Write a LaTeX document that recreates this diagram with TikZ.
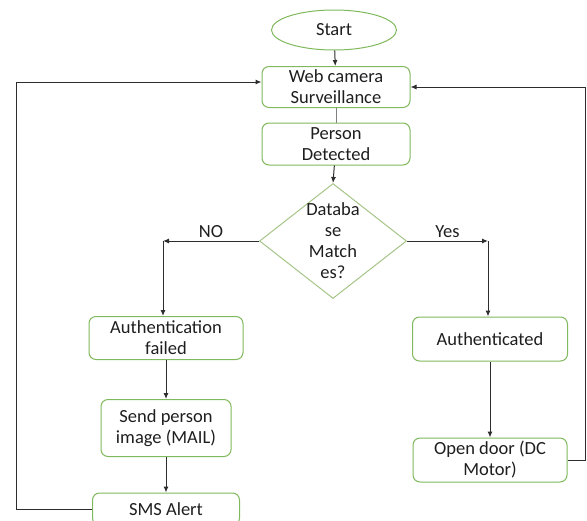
\documentclass[tikz,border=0pt]{standalone}
\usepackage{fontspec}
\setmainfont{Carlito}
\usetikzlibrary{shapes.geometric,arrows.meta}
\definecolor{boxgreen}{RGB}{128,184,92}
\definecolor{diagreen}{RGB}{165,196,135}
\definecolor{linegray}{RGB}{45,45,45}
\definecolor{textgray}{RGB}{30,30,30}

\begin{document}
\begin{tikzpicture}[x=1pt, y=-1pt]
    \tikzstyle{every node} = [font=\fontsize{18.5}{21}\selectfont, text=textgray]
    \tikzstyle{stepbox} = [draw=boxgreen, line width=1pt, rounded corners=7pt, align=center, inner sep=0pt]
    \tikzstyle{flow} = [draw=linegray, line width=1pt, -{Latex[length=6pt,width=5pt]}]
    \tikzstyle{plain} = [draw=linegray, line width=1pt]
    \useasboundingbox (0,0) rectangle (587,520);
    \node[ellipse, draw=boxgreen, line width=1pt, minimum width=125, minimum height=40] (start) at (334,30) {Start};
    \node[stepbox, minimum width=148, minimum height=41] (cam) at (336,87) {Web camera\\Surveillance};
    \node[stepbox, minimum width=148, minimum height=42] (person) at (336,144) {Person\\Detected};
    \node[diamond, draw=diagreen, line width=1pt, minimum width=147, minimum height=115, inner sep=0pt] (match) at (333,241) {};
    \node[align=center] (matchtext) at (match) {Databa\\se\\Match\\es?};
    \node[stepbox, minimum width=154, minimum height=43] (fail) at (166,338) {Authentication\\failed};
    \node[stepbox, minimum width=130, minimum height=57] (mail) at (166,428) {Send person\\image (MAIL)};
    \node[stepbox, minimum width=147, minimum height=32] (sms) at (166,509) {SMS Alert};
    \node[stepbox, minimum width=155, minimum height=44] (auth) at (490,339) {Authenticated};
    \node[stepbox, minimum width=154, minimum height=44] (door) at (490,460) {Open door (DC\\Motor)};

    \coordinate (nocorner) at (163,241);
    \coordinate (yescorner) at (488,241);
    \coordinate (backL) at (16,82);
    \coordinate (backR) at (585,87);

    \draw[flow] (start) -- (cam);
    \draw[plain, draw=gray] (cam) -- (person);
    \draw[flow] (person) -- (match.north);
    \draw[flow] (match.west) -- (nocorner) node[midway, above] {NO};
    \draw[flow] (nocorner) -- (nocorner |- fail.north);
    \draw[flow] (match.east) -- (yescorner) node[midway, above] {Yes};
    \draw[flow] (yescorner) -- (yescorner |- auth.north);
    \draw[flow] (fail) -- (mail);
    \draw[flow] (mail) -- (sms);
    \draw[flow] (auth) -- (door);
    \draw[flow] (sms.west) -| (backL) -- (backL -| cam.west);
    \draw[flow] (door.east) -| (backR) -- (cam.east);
\end{tikzpicture}
\end{document}
